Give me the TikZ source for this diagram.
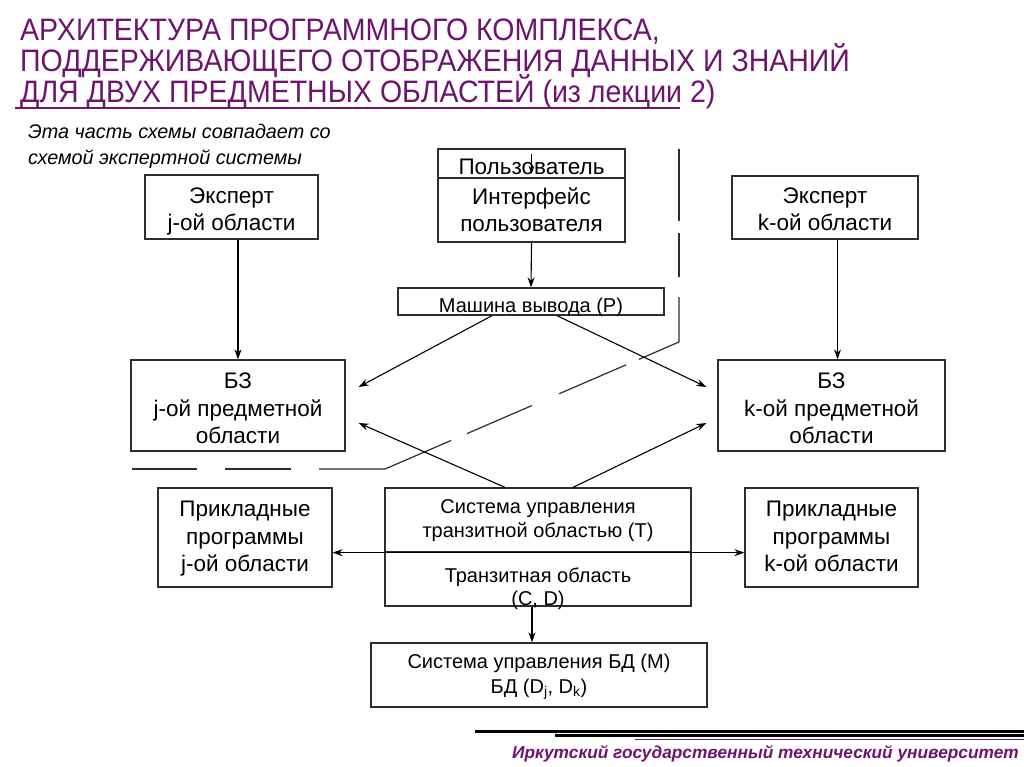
\documentclass[tikz,border=0pt]{standalone}
\usepackage{fontspec}
\setmainfont{Liberation Sans}
\newfontfamily\titlefont[FakeStretch=0.92]{Liberation Sans}
\usetikzlibrary{arrows.meta,calc}
\definecolor{ttl}{RGB}{110,20,110}
\definecolor{ln}{RGB}{45,45,45}
\begin{document}
\begin{tikzpicture}[x=1pt,y=-1pt,
  box/.style={draw=ln,line width=1.3pt,inner sep=0pt},
  big/.style={anchor=base,inner sep=0pt,font=\fontsize{22.5}{27}\selectfont},
  mid/.style={anchor=base,inner sep=0pt,font=\fontsize{20}{24}\selectfont},
  arr/.style={draw=black,line width=1.1pt,-{Stealth[length=10pt,width=7pt]}},
  arrs/.style={draw=black,line width=1.1pt,-{Stealth[length=8pt,width=6pt]}},
  arrb/.style={draw=black,line width=1.1pt,{Stealth[length=10pt,width=7pt]}-{Stealth[length=10pt,width=7pt]}},
  ttlline/.style={anchor=base west,inner sep=0pt,text=ttl,font=\titlefont\fontsize{31}{31}\selectfont},
  subline/.style={anchor=base west,inner sep=0pt,font=\itshape\fontsize{19.8}{24}\selectfont},
  bnd/.style={ln,line width=1.2pt}]
\useasboundingbox (0,0) rectangle (1024,767);
\fill[white] (0,0) rectangle (1024,767);

% title
\node[ttlline] (t1) at (20,41) {АРХИТЕКТУРА ПРОГРАММНОГО КОМПЛЕКСА,};
\node[ttlline] (t2) at (20,72) {ПОДДЕРЖИВАЮЩЕГО ОТОБРАЖЕНИЯ ДАННЫХ И ЗНАНИЙ};
\node[ttlline] (t3) at (20,103) {ДЛЯ ДВУХ ПРЕДМЕТНЫХ ОБЛАСТЕЙ (из лекции 2)};
\draw[ttl,line width=1.3pt] (15,108) -- (680,108);

\node[subline] (s1) at (28,139) {Эта часть схемы совпадает со};
\node[subline] (s2) at (28,165) {схемой экспертной системы};

% boundary of the part shared with the expert system scheme
\draw[bnd] (132,469) -- (197,469);
\draw[bnd] (225,469) -- (291,469);
\draw[bnd] (319,469) -- (385,469) -- (451,440.5);
\draw[bnd] (467,433.6) -- (532,405.5);
\draw[bnd] (559,393.8) -- (626,364.9);
\draw[bnd] (639,359.3) -- (679,342) -- (679,297);
\draw[bnd] (679,277) -- (679,233);
\draw[bnd] (679,221) -- (679,149);

% boxes
\node[box,minimum width=173pt,minimum height=64pt] (expj) at (231.5,207) {};
\node[big] (expj1) at (231.5,204) {Эксперт};
\node[big] (expj2) at (231.5,231) {j-ой области};

\node[box,minimum width=186pt,minimum height=63pt] (expk) at (825,207.5) {};
\node[big] (expk1) at (825,204) {Эксперт};
\node[big] (expk2) at (825,231) {k-ой области};

\node[box,minimum width=187pt,minimum height=29pt] (user) at (531.5,163.5) {};
\node[big] (user1) at (531.5,175) {Пользователь};
\node[box,minimum width=187pt,minimum height=64pt] (iface) at (531.5,210) {};
\node[big] (iface1) at (531.5,205) {Интерфейс};
\node[big] (iface2) at (531.5,232) {пользователя};

\node[box,minimum width=266pt,minimum height=27pt] (mash) at (531,301.5) {};
\node[mid] (mash1) at (531,312) {Машина вывода (P)};

\node[box,minimum width=214pt,minimum height=91pt] (bzj) at (238,405.5) {};
\node[big] (bzj1) at (238,388) {БЗ};
\node[big] (bzj2) at (238,416) {j-ой предметной};
\node[big] (bzj3) at (238,443) {области};

\node[box,minimum width=227pt,minimum height=91pt] (bzk) at (831.5,405.5) {};
\node[big] (bzk1) at (831.5,388) {БЗ};
\node[big] (bzk2) at (831.5,416) {k-ой предметной};
\node[big] (bzk3) at (831.5,443) {области};

\node[box,minimum width=174pt,minimum height=99pt] (appj) at (245,537.5) {};
\node[big] (appj1) at (245,516) {Прикладные};
\node[big] (appj2) at (245,544) {программы};
\node[big] (appj3) at (245,571) {j-ой области};

\node[box,minimum width=173pt,minimum height=99pt] (appk) at (831.5,537.5) {};
\node[big] (appk1) at (831.5,516) {Прикладные};
\node[big] (appk2) at (831.5,544) {программы};
\node[big] (appk3) at (831.5,571) {k-ой области};

\node[box,minimum width=306pt,minimum height=64pt] (tsys) at (538,520) {};
\node[mid] (tsys1) at (538,513) {Система управления};
\node[mid] (tsys2) at (538,537) {транзитной областью (T)};
\node[box,minimum width=306pt,minimum height=54pt] (tarea) at (538,579) {};
\node[mid] (tarea1) at (538,582) {Транзитная область};
\node[mid] (tarea2) at (538,605) {(C, D)};

\node[box,minimum width=336pt,minimum height=64pt] (db) at (539,675) {};
\node[mid] (db1) at (539,668) {Система управления БД (M)};
\node[mid] (db2) at (539,693) {БД (D\textsubscript{j}, D\textsubscript{k})};

% connectors
\draw[arrs] ([yshift=-6pt]user.north) -- ([yshift=5pt]user.south);
\draw[arr] (expj.south -| bzj.north) -- (bzj.north);
\coordinate (ka) at ($(bzk.north)+(6,0)$);
\draw[arr] (expk.south -| ka) -- (ka);
\draw[arr] (iface.south) -- (mash.north);
\coordinate (tb) at ($(tarea.south)+(-6,0)$);
\draw[arr] (tb) -- (tb |- db.north);
\draw[arrb] (appj.east |- tsys.south) -- (appk.west |- tsys.south);

\coordinate (m1) at ($(mash.south)+(-39,0)$);
\coordinate (m2) at ($(mash.south)+(26,0)$);
\coordinate (n1) at ($(tsys.north)+(-33,0)$);
\coordinate (n2) at ($(tsys.north)+(35,0)$);
\coordinate (aj1) at ($(bzj.east)+(13,-18.5)$);
\coordinate (aj2) at ($(bzj.east)+(13,17.5)$);
\coordinate (ak1) at ($(bzk.west)+(-11,-18.5)$);
\coordinate (ak2) at ($(bzk.west)+(-11,17.5)$);
\draw[arr] (m1) -- (aj1);
\draw[arr] (m2) -- (ak1);
\draw[arr] (n1) -- (aj2);
\draw[arr] (n2) -- (ak2);

% footer
\draw[black,line width=3pt] (475,731) -- (1024,731);
\draw[black,line width=2.2pt] (555,735.5) -- (1024,735.5);
\draw[ttl,line width=1.6pt] (635,739.5) -- (1024,739.5);
\node[anchor=base east,inner sep=0pt,text=ttl,font=\bfseries\itshape\fontsize{17.3}{20}\selectfont] (foot) at (1019,758) {Иркутский государственный технический университет};
\end{tikzpicture}
\end{document}
